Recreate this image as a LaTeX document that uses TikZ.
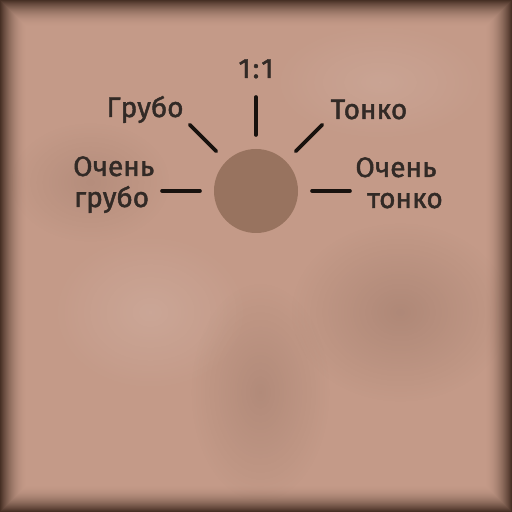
\documentclass[tikz,border=0pt]{standalone}
\usepackage{fontspec}
\newfontfamily\lblfont[FakeBold=1.6]{Fira Sans}
\usetikzlibrary{calc,fadings}
\tikzfading[name=softblob, inner color=transparent!0, outer color=transparent!100]
\definecolor{paper}{RGB}{196,154,136}
\definecolor{edge}{RGB}{50,30,20}
\definecolor{disc}{RGB}{152,115,95}
\definecolor{ink}{RGB}{50,42,38}
\definecolor{rayc}{RGB}{24,18,14}
\tikzset{
  lbl/.style={font=\lblfont\fontsize{28}{30}\selectfont, text=ink, inner sep=0pt},
  ray/.style={draw=rayc, line width=3.6pt, line cap=round},
  sunc/.style={circle, fill=disc, minimum size=84pt, inner sep=0pt},
}
\begin{document}
\begin{tikzpicture}[x=1pt,y=1pt]
\useasboundingbox (0,0) rectangle (512,512);
\fill[paper] (0,0) rectangle (512,512);
% mottling
\fill[edge,opacity=0.14,path fading=softblob] (400,200) ellipse (110 and 90);
\fill[edge,opacity=0.12,path fading=softblob] (260,120) ellipse (70 and 110);
\fill[edge,opacity=0.10,path fading=softblob] (90,330) ellipse (80 and 60);
\fill[white,opacity=0.12,path fading=softblob] (150,200) ellipse (100 and 80);
\fill[white,opacity=0.10,path fading=softblob] (380,430) ellipse (110 and 60);
% vignette
\foreach \i in {0,...,26}{
  \pgfmathsetmacro{\op}{0.85*(1-\i/27)^2}
  \draw[edge,opacity=\op,line width=1pt] (\i+0.5,\i+0.5) rectangle (511.5-\i,511.5-\i);
}
\node[sunc] (sun) at (256,321) {};
\foreach \a in {0,45,90,135,180}{
  \draw[ray] ($(sun.center)+(\a:56)$) -- ($(sun.center)+(\a:94)$);
}
\node[lbl, anchor=base] (one) at (256,434) {1\kern2pt:\kern2pt1};
\node[lbl, anchor=base] (coarse) at (145,395) {Грубо};
\node[lbl, anchor=base] (fine) at (369,393) {Тонко};
\node[lbl, anchor=base west] (vcoarseA) at (73,336) {Очень};
\node[lbl, anchor=base west] (vcoarseB) at (74,305) {грубо};
\node[lbl, anchor=base] (vfineA) at (396,335) {Очень};
\node[lbl, anchor=base] (vfineB) at (405,304) {тонко};
\end{tikzpicture}
\end{document}
